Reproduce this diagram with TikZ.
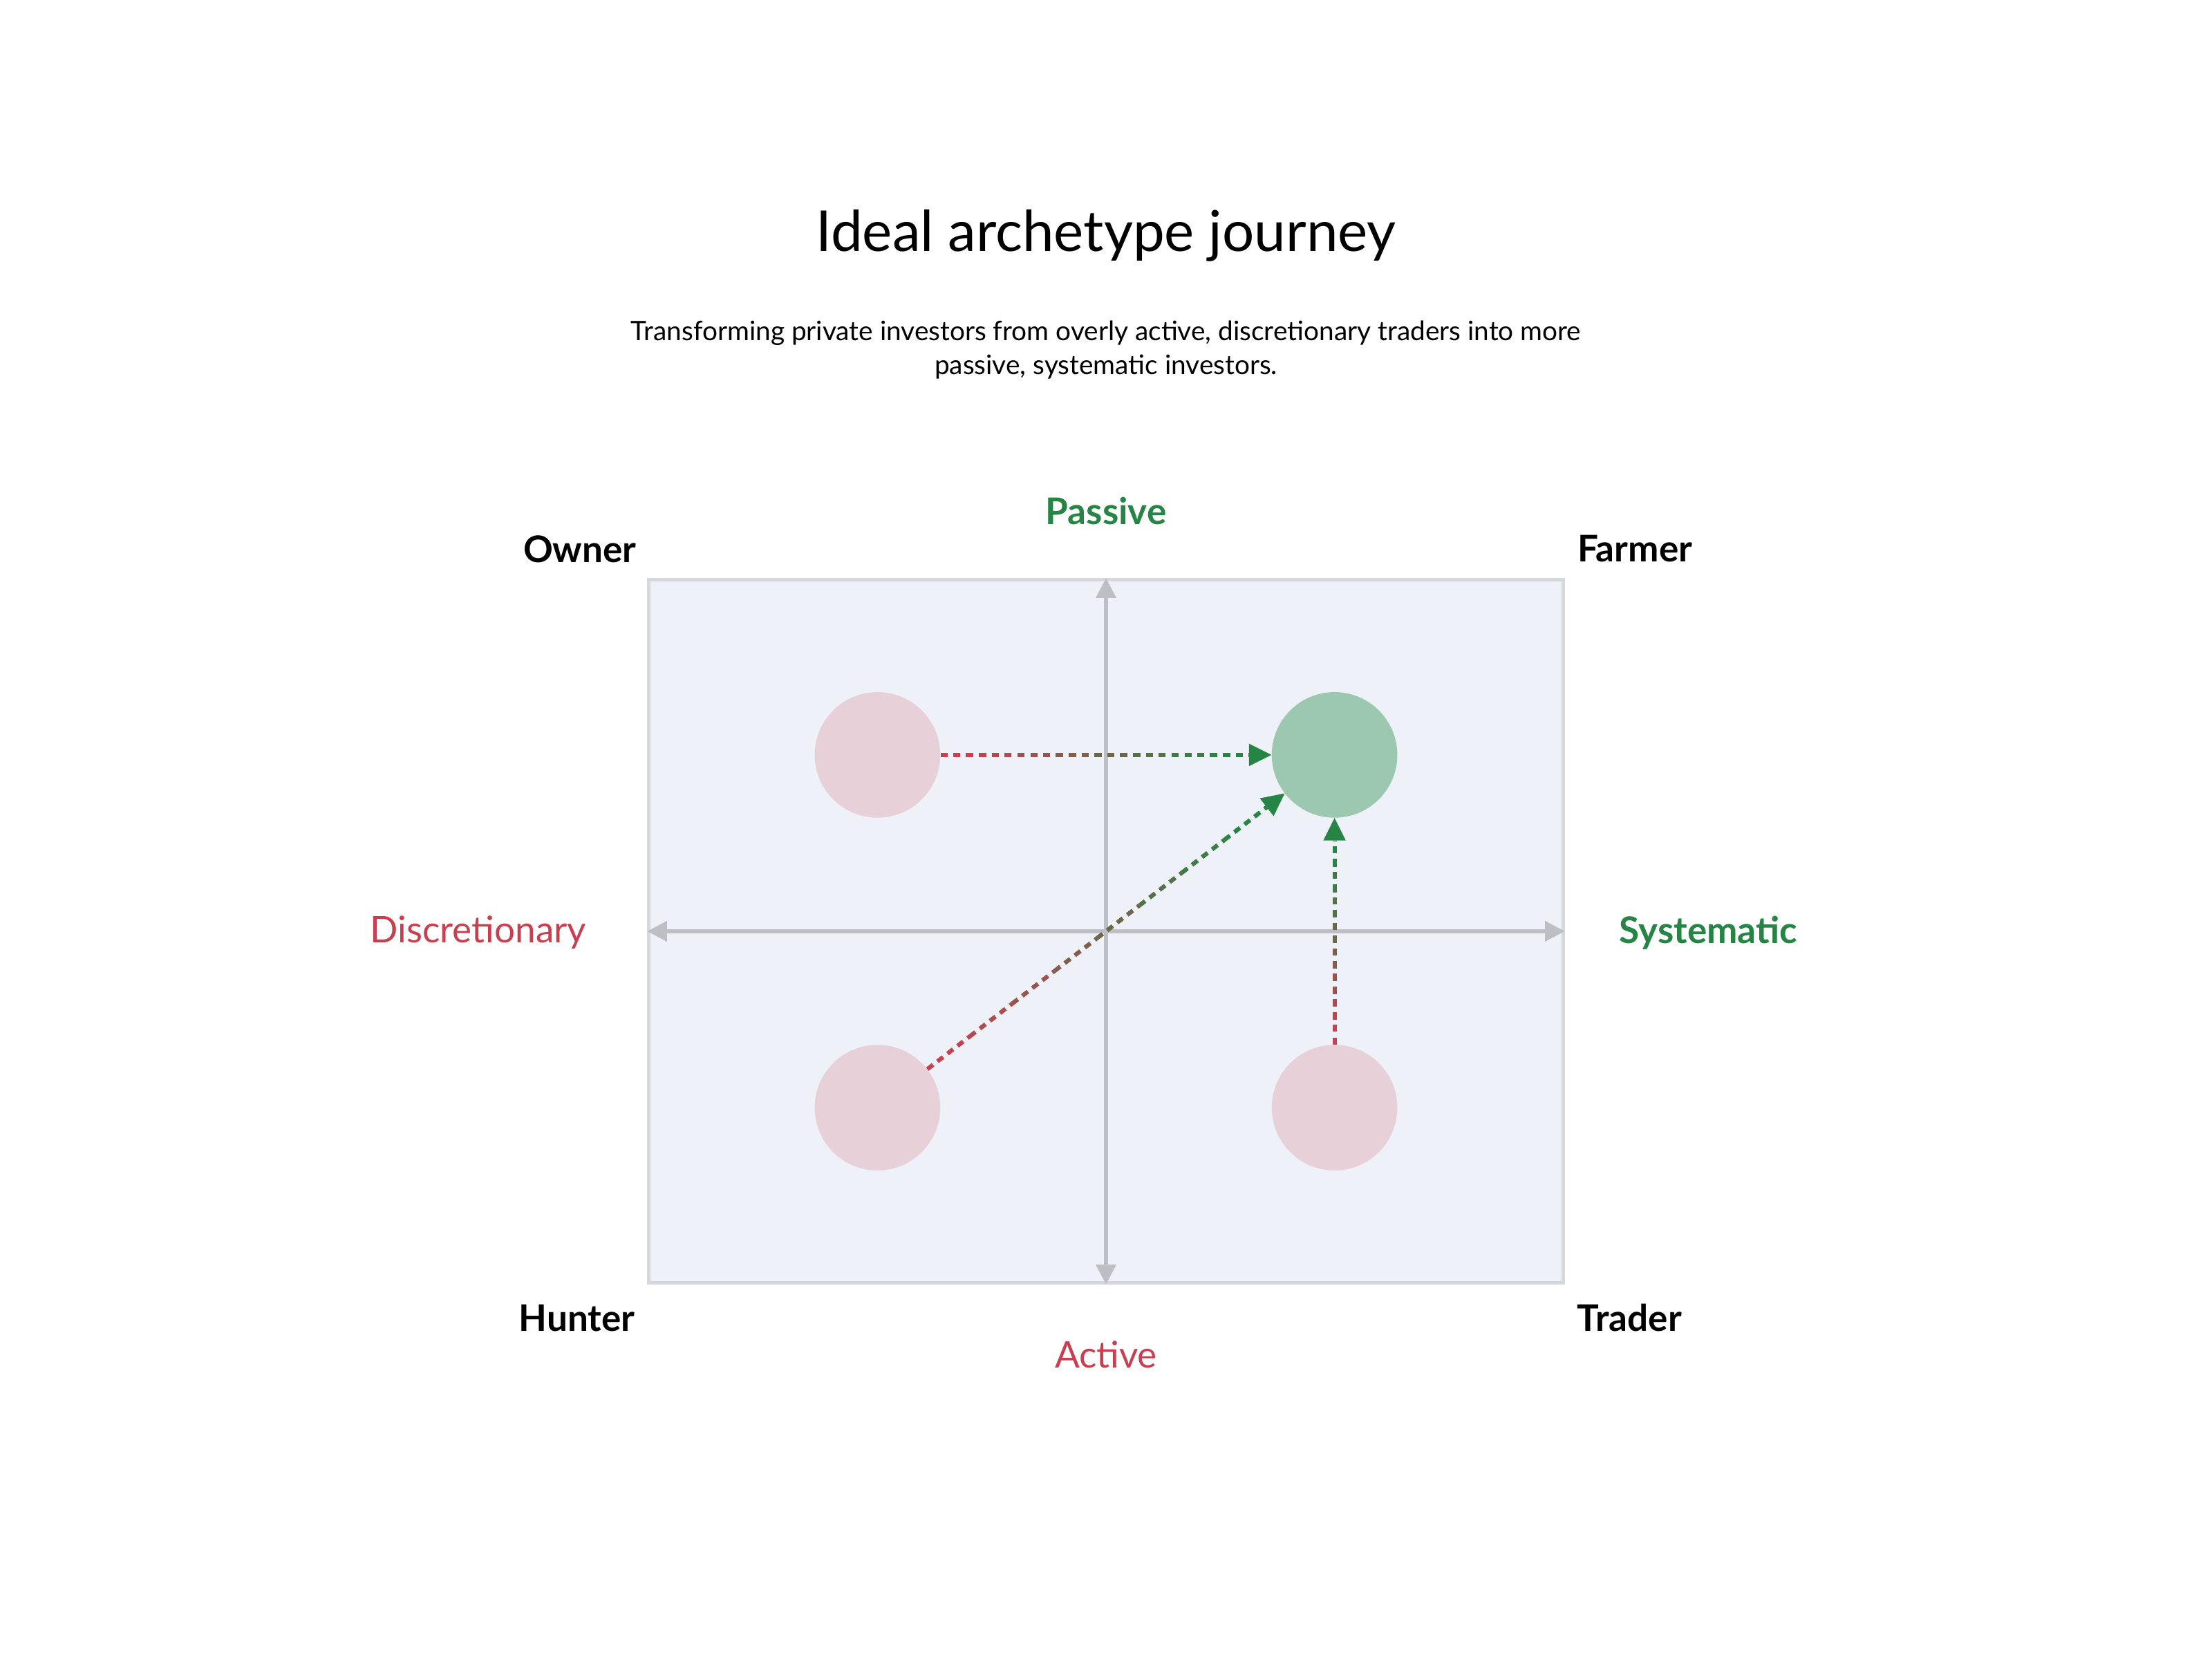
\documentclass[tikz,border=0pt]{standalone}
\usepackage{fontspec}
\setmainfont{Lato}
\usetikzlibrary{arrows.meta,calc}
\definecolor{rd}{HTML}{C8404F}
\definecolor{gn}{HTML}{268445}
\definecolor{ax}{HTML}{BDBFC4}
\definecolor{bx}{HTML}{EEF1F8}
\definecolor{bd}{HTML}{D4D7DE}
\definecolor{pk}{HTML}{E8D0D8}
\definecolor{gc}{HTML}{9DC8B0}
\tikzset{
 circ/.style={circle,minimum size=89pt,inner sep=0pt,fill=#1},
 lab/.style={font=\fontsize{26}{30}\selectfont\bfseries},
 axis/.style={ax,line width=2.5pt,{Triangle[length=14pt,width=14pt]}-{Triangle[length=14pt,width=14pt]}},
 seg/.style={line width=3pt,dash pattern=on 5pt off 4pt}
}
\newcommand\gradarrow[2]{%
 \path (#1) -- (#2) coordinate[pos=0] (s) coordinate[pos=1] (e);
 \coordinate (e2) at ($(e)!16pt!(s)$);
 \foreach \i [evaluate=\i as \a using (\i)/8, evaluate=\i as \b using (\i+1)/8, evaluate=\i as \p using 100-\i*100/7] in {0,...,7}{
   \draw[seg,color=rd!\p!gn] ($(s)!\a!(e2)$) -- ($(s)!\b!(e2)$);}
 \fill[gn] (e) -- ($(e2)!8pt!90:(e)$) -- ($(e2)!8pt!-90:(e)$) -- cycle;
}
\begin{document}
\begin{tikzpicture}[x=1pt,y=-1pt]
\useasboundingbox (0,0) rectangle (1568,1176);
\node[font=\fontsize{40}{48}\selectfont] (t) at (784,167) {Ideal archetype journey};
\node[font=\fontsize{19}{24}\selectfont,align=center] (st) at (784,248) {Transforming private investors from overly active, discretionary traders into more\\passive, systematic investors.};
\node[draw=bd,fill=bx,line width=2.5pt,minimum width=648pt,minimum height=498pt,inner sep=0pt] (box) at (784,660) {};
\draw[axis] (box.west) -- (box.east);
\draw[axis] (box.north) -- (box.south);
\node[circ=pk] (o) at (622,535) {};
\node[circ=gc] (f) at (946,535) {};
\node[circ=pk] (h) at (622,785) {};
\node[circ=pk] (tr) at (946,785) {};
\gradarrow{o}{f}
\gradarrow{h}{f}
\gradarrow{tr}{f}
\node[lab] (lo) at (411,389) {Owner};
\node[lab] (lf) at (1159,389) {Farmer};
\node[lab] (lh) at (409,934) {Hunter};
\node[lab] (lt) at (1155,934) {Trader};
\node[lab,gn] (lp) at (784,362) {Passive};
\node[lab,gn] (ls) at (1211,661) {Systematic};
\node[font=\fontsize{26}{30}\selectfont,rd] (la) at (784,960) {Active};
\node[font=\fontsize{26}{30}\selectfont,rd] (ld) at (339,661) {Discretionary};
\end{tikzpicture}
\end{document}
